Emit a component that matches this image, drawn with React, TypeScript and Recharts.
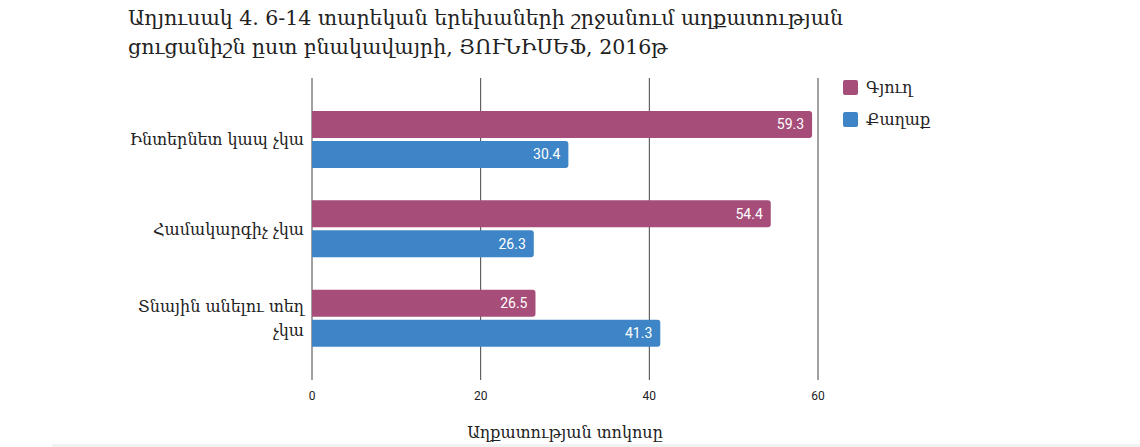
import { BarChart, Bar, XAxis, YAxis, CartesianGrid, LabelList } from "recharts";

const categories = ["Ինտերնետ կապ չկա", "Համակարգիչ չկա", "Տնային անելու տեղ չկա"];
const village = [59.3, 54.4, 26.5];
const city = [30.4, 26.3, 41.3];
const xTicks = [0, 20, 40, 60];

const seriesNames = { village: "Գյուղ", city: "Քաղաք" };
const colors = { village: "#a64d79", city: "#3d85c6" };

const data = categories.map((c, i) => ({ name: c, village: village[i], city: city[i] }));

const serif = "'DejaVu Serif', serif";
const sans = "Roboto, 'Noto Sans', sans-serif";

// category labels wrap when they get too long
function CategoryTick({ x, y, payload }: any) {
  const text: string = payload.value;
  const lines = text.length > 18 ? [text.split(" ").slice(0, -1).join(" "), text.split(" ").slice(-1)[0]] : [text];
  const start = y - ((lines.length - 1) * 24) / 2;
  return (
    <text x={x} y={start} textAnchor="end" fontFamily={serif} fontSize={16} fill="#222">
      {lines.map((l, i) => (
        <tspan key={i} x={x} y={start + i * 24} dominantBaseline="central">
          {l}
        </tspan>
      ))}
    </text>
  );
}

function LegendBox() {
  const items = [
    { label: seriesNames.village, color: colors.village },
    { label: seriesNames.city, color: colors.city },
  ];
  return (
    <div style={{ position: "absolute", left: 843, top: 71 }}>
      {items.map((it) => (
        <div key={it.label} style={{ display: "flex", alignItems: "center", height: 32 }}>
          <span style={{ width: 15, height: 15, background: it.color, borderRadius: 2, marginRight: 8 }} />
          <span style={{ fontFamily: serif, fontSize: 16, color: "#222" }}>{it.label}</span>
        </div>
      ))}
    </div>
  );
}

export default function App() {
  return (
    <div style={{ position: "absolute", left: 0, top: 0, width: 1140, height: 447, background: "#fff" }}>
      <div
        style={{
          position: "absolute",
          left: 128,
          top: 4,
          width: 800,
          fontFamily: serif,
          fontSize: 20.5,
          lineHeight: "29px",
          color: "#222",
        }}
      >
        Աղյուսակ 4. 6-14 տարեկան երեխաների շրջանում աղքատության
        <br />
        ցուցանիշն ըստ բնակավայրի, ՅՈՒՆԻՍԵՖ, 2016թ
      </div>
      <BarChart
        width={1140}
        height={447}
        data={data}
        layout="vertical"
        margin={{ top: 78, right: 322, bottom: 0, left: 0 }}
        barSize={27}
        barGap={3}
      >
        <CartesianGrid horizontal={false} vertical stroke="#444" strokeOpacity={1} />
        <XAxis
          type="number"
          domain={[0, 60]}
          ticks={xTicks}
          height={67}
          axisLine={false}
          tickLine={false}
          tickMargin={5}
          tick={{ fontSize: 12, fill: "#222", fontFamily: sans }}
        />
        <YAxis
          type="category"
          dataKey="name"
          width={312}
          axisLine={false}
          tickLine={false}
          padding={{ top: 17, bottom: 17 }}
          tick={<CategoryTick />}
        />
        <Bar dataKey="village" name={seriesNames.village} fill={colors.village} radius={[0, 3, 3, 0]} isAnimationActive={false}>
          <LabelList dataKey="village" position="insideRight" offset={8} fill="#fff" fontSize={14} fontFamily={sans} />
        </Bar>
        <Bar dataKey="city" name={seriesNames.city} fill={colors.city} radius={[0, 3, 3, 0]} isAnimationActive={false}>
          <LabelList dataKey="city" position="insideRight" offset={8} fill="#fff" fontSize={14} fontFamily={sans} />
        </Bar>
      </BarChart>
      <LegendBox />
      <div
        style={{
          position: "absolute",
          left: 312,
          width: 506,
          top: 423,
          textAlign: "center",
          fontFamily: serif,
          fontSize: 16,
          color: "#222",
        }}
      >
        Աղքատության տոկոսը
      </div>
      <div style={{ position: "absolute", left: 52, right: 0, top: 444, height: 3, background: "#f2f2f2" }} />
    </div>
  );
}
